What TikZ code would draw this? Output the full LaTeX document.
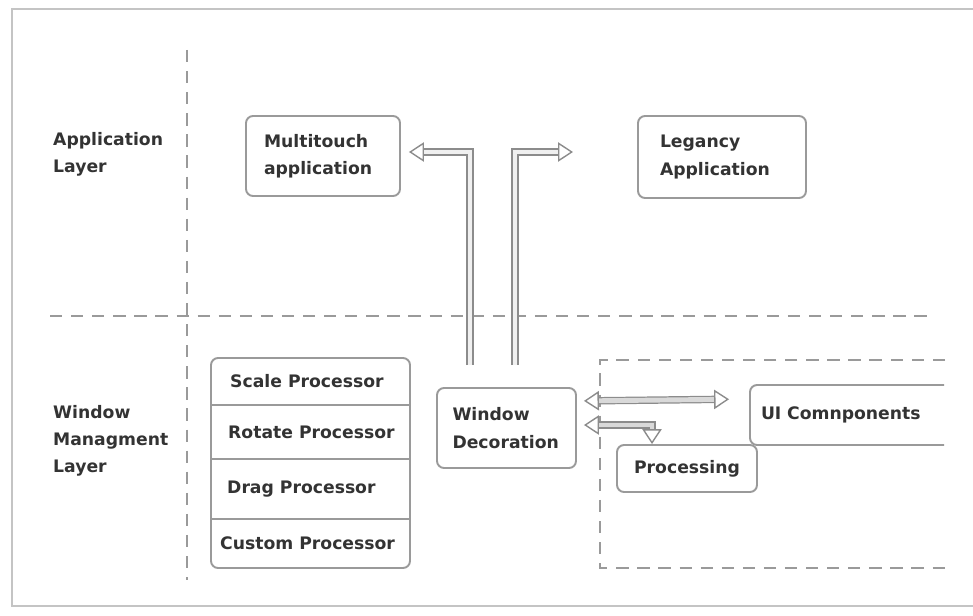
\documentclass[tikz,border=0pt]{standalone}
\usepackage{fontspec}
\setsansfont{DejaVu Sans}
\usetikzlibrary{positioning, calc, arrows.meta}
\definecolor{Ink}{HTML}{333333}
\definecolor{Edge}{HTML}{9A9A9A}
\definecolor{Pipe}{HTML}{8C8C8C}
\definecolor{Frame}{HTML}{C4C4C4}
\tikzset{
    labeltext/.style={font=\sffamily\bfseries\fontsize{9.8}{15.5}\selectfont, text=Ink, align=left},
    appbox/.style={rectangle, rounded corners=4pt, draw=Edge, line width=1.1pt, labeltext, inner sep=0pt},
    layerline/.style={dashed, dash pattern=on 7pt off 5pt, draw=Edge, line width=1.1pt},
    pipe/.style={draw=Pipe, line width=0.7pt, double=gray!30, double distance=2.8pt,
        {Triangle[open, length=8.5pt, width=11pt, line width=0.8pt]}-{Triangle[open, length=8.5pt, width=11pt, line width=0.8pt]}},
    pipeto/.style={draw=Pipe, line width=0.7pt, double=gray!12, double distance=2.8pt,
        -{Triangle[open, length=8.5pt, width=11pt, line width=0.8pt]}},
}
\begin{document}
\begin{tikzpicture}[x=0.02cm, y=-0.02cm]
    \useasboundingbox (0,0) rectangle (973,615);

    % Rahmen
    \draw[Frame, line width=1.6pt] (973,9) -- (12,9) -- (12,606) -- (973,606);

    % Trennlinien der Schichten
    \draw[layerline, line width=0.8pt] (187,50) -- (187,580);
    \draw[layerline] (50,316) -- (935,316);

    % Schichtnamen
    \node[labeltext, anchor=north west] (applayer) at (47,126) {Application\\Layer};
    \node[labeltext, anchor=north west] (wmlayer) at (47,399) {Window\\Managment\\Layer};

    % Application Layer
    \node[appbox, minimum width=154*0.02cm, minimum height=80*0.02cm, text width=118*0.02cm] (mt) at (323,156) {Multitouch\\application};
    \node[appbox, minimum width=168*0.02cm, minimum height=82*0.02cm, text width=124*0.02cm] (la) at (722,157) {Legancy\\Application};

    % Prozessoren
    \node[appbox, minimum width=199*0.02cm, minimum height=210*0.02cm] (procs) at (310.5,463) {};
    \node[labeltext, anchor=west] (scale) at (224,381) {Scale Processor};
    \node[labeltext, anchor=west] (rotate) at (222,432) {Rotate Processor};
    \node[labeltext, anchor=west] (drag) at (221,489) {Drag Processor};
    \node[labeltext, anchor=west] (custom) at (214,543) {Custom Processor};
    \foreach \y in {405,459,519}
        \draw[Edge, line width=1.1pt] (procs.west |- 0,\y) -- (procs.east |- 0,\y);

    % Window Decoration
    \node[appbox, minimum width=139*0.02cm, minimum height=80*0.02cm, text width=108*0.02cm] (wd) at (506.5,428) {Window\\Decoration};

    % UI Bereich
    \draw[layerline, line width=0.8pt] (945,360) -- (600,360) -- (600,568) -- (945,568);
    \begin{scope}
        \clip (700,370) rectangle (944,460);
        \node[appbox, minimum width=206*0.02cm, minimum height=60*0.02cm, text width=184*0.02cm] (ui) at (853,415) {UI Comnponents};
    \end{scope}
    \node[appbox, minimum width=140*0.02cm, minimum height=47*0.02cm, align=center] (pr) at (687,468.5) {Processing};

    % Pfeile
    \coordinate (up1) at (470,365);
    \coordinate (up2) at (515,365);
    \coordinate (legtip) at (573,152);
    \draw[pipeto, shorten >=8*0.02cm] (up1) |- ([yshift=4*0.02cm]mt.east);
    \draw[pipeto] (up2) |- (legtip);
    \draw[pipe, shorten <=7*0.02cm, shorten >=20*0.02cm] ([yshift=27*0.02cm]wd.east) -- ([yshift=16*0.02cm]ui.west);
    \draw[pipe, shorten <=7*0.02cm] ([yshift=3*0.02cm]wd.east) -| ([xshift=-35*0.02cm]pr.north);
\end{tikzpicture}
\end{document}
